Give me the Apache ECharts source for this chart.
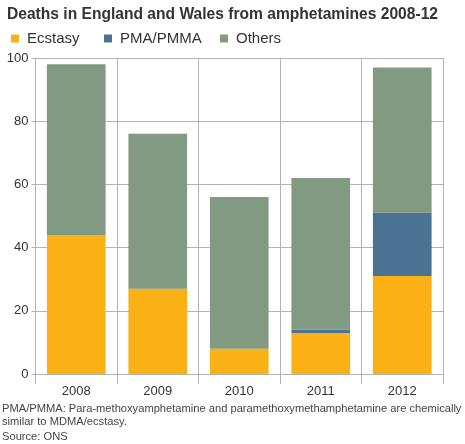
<!DOCTYPE html>
<html>
<head>
<meta charset="utf-8">
<title>Deaths from amphetamines</title>
<script src="https://cdn.jsdelivr.net/npm/echarts@6/dist/echarts.min.js"></script>
<style>
  * { margin: 0; padding: 0; }
  html, body { width: 100%; height: 100%; background: #fff; }
  #main { width: 465px; height: 444px; }
</style>
</head>
<body>
<div id="main"></div>
<script>
// data
var years = ['2008', '2009', '2010', '2011', '2012'];
var ecstasy = [44, 27, 8, 13, 31];
var pma = [0, 0, 0, 1, 20];
var others = [54, 49, 48, 48, 46];
var yTicks = [0, 20, 40, 60, 80, 100];

var FONT = 'Liberation Sans, Arial, sans-serif';
var chart = echarts.init(document.getElementById('main'));

// one legend per entry so the uneven spacing of the original can be kept
function legendItem(name, left) {
  return {
    left: left,
    top: 26,
    icon: 'rect',
    itemWidth: 8,
    itemHeight: 8,
    textStyle: { fontSize: 15, color: '#333', fontFamily: FONT, padding: [0, 0, 0, 3] },
    data: [name]
  };
}

chart.setOption({
  animation: false,
  textStyle: { fontFamily: FONT },
  title: {
    text: 'Deaths in England and Wales from amphetamines 2008-12',
    left: 2,
    top: 2,
    textStyle: { fontSize: 15.6, fontWeight: 'bold', color: '#333', fontFamily: FONT }
  },
  legend: [
    legendItem('Ecstasy', 6),
    legendItem('PMA/PMMA', 99),
    legendItem('Others', 215)
  ],
  grid: { left: 35.5, right: 22, top: 58, bottom: 70 },
  xAxis: {
    type: 'category',
    data: years,
    axisLine: { lineStyle: { color: '#b3b3b3' } },
    axisTick: { show: true, length: 10, lineStyle: { color: '#b3b3b3' } },
    axisLabel: { fontSize: 13, color: '#333', margin: 11, fontFamily: FONT },
    splitLine: { show: true, lineStyle: { color: '#b3b3b3' } }
  },
  yAxis: {
    type: 'value',
    min: yTicks[0],
    max: yTicks[yTicks.length - 1],
    interval: 20,
    axisLine: { show: true, lineStyle: { color: '#b3b3b3' } },
    axisTick: { show: true, length: 4, lineStyle: { color: '#b3b3b3' } },
    axisLabel: { fontSize: 13, color: '#333', margin: 7, fontFamily: FONT },
    splitLine: { show: true, lineStyle: { color: '#b3b3b3' } }
  },
  series: [
    { name: 'Ecstasy', type: 'bar', stack: 'a', data: ecstasy, barWidth: '72%',
      itemStyle: { color: '#F9B116' } },
    { name: 'PMA/PMMA', type: 'bar', stack: 'a', data: pma, barWidth: '72%',
      itemStyle: { color: '#4A7292' } },
    { name: 'Others', type: 'bar', stack: 'a', data: others, barWidth: '72%',
      itemStyle: { color: '#819A81' } }
  ],
  graphic: [
    { type: 'text', left: 2, top: 402,
      style: { text: 'PMA/PMMA: Para-methoxyamphetamine and paramethoxymethamphetamine are chemically\nsimilar to MDMA/ecstasy.',
        fontSize: 11.15, lineHeight: 13, fill: '#444', fontFamily: FONT } },
    { type: 'text', left: 2, top: 431,
      style: { text: 'Source: ONS', fontSize: 11.15, fill: '#444', fontFamily: FONT } }
  ]
});
</script>
</body>
</html>
